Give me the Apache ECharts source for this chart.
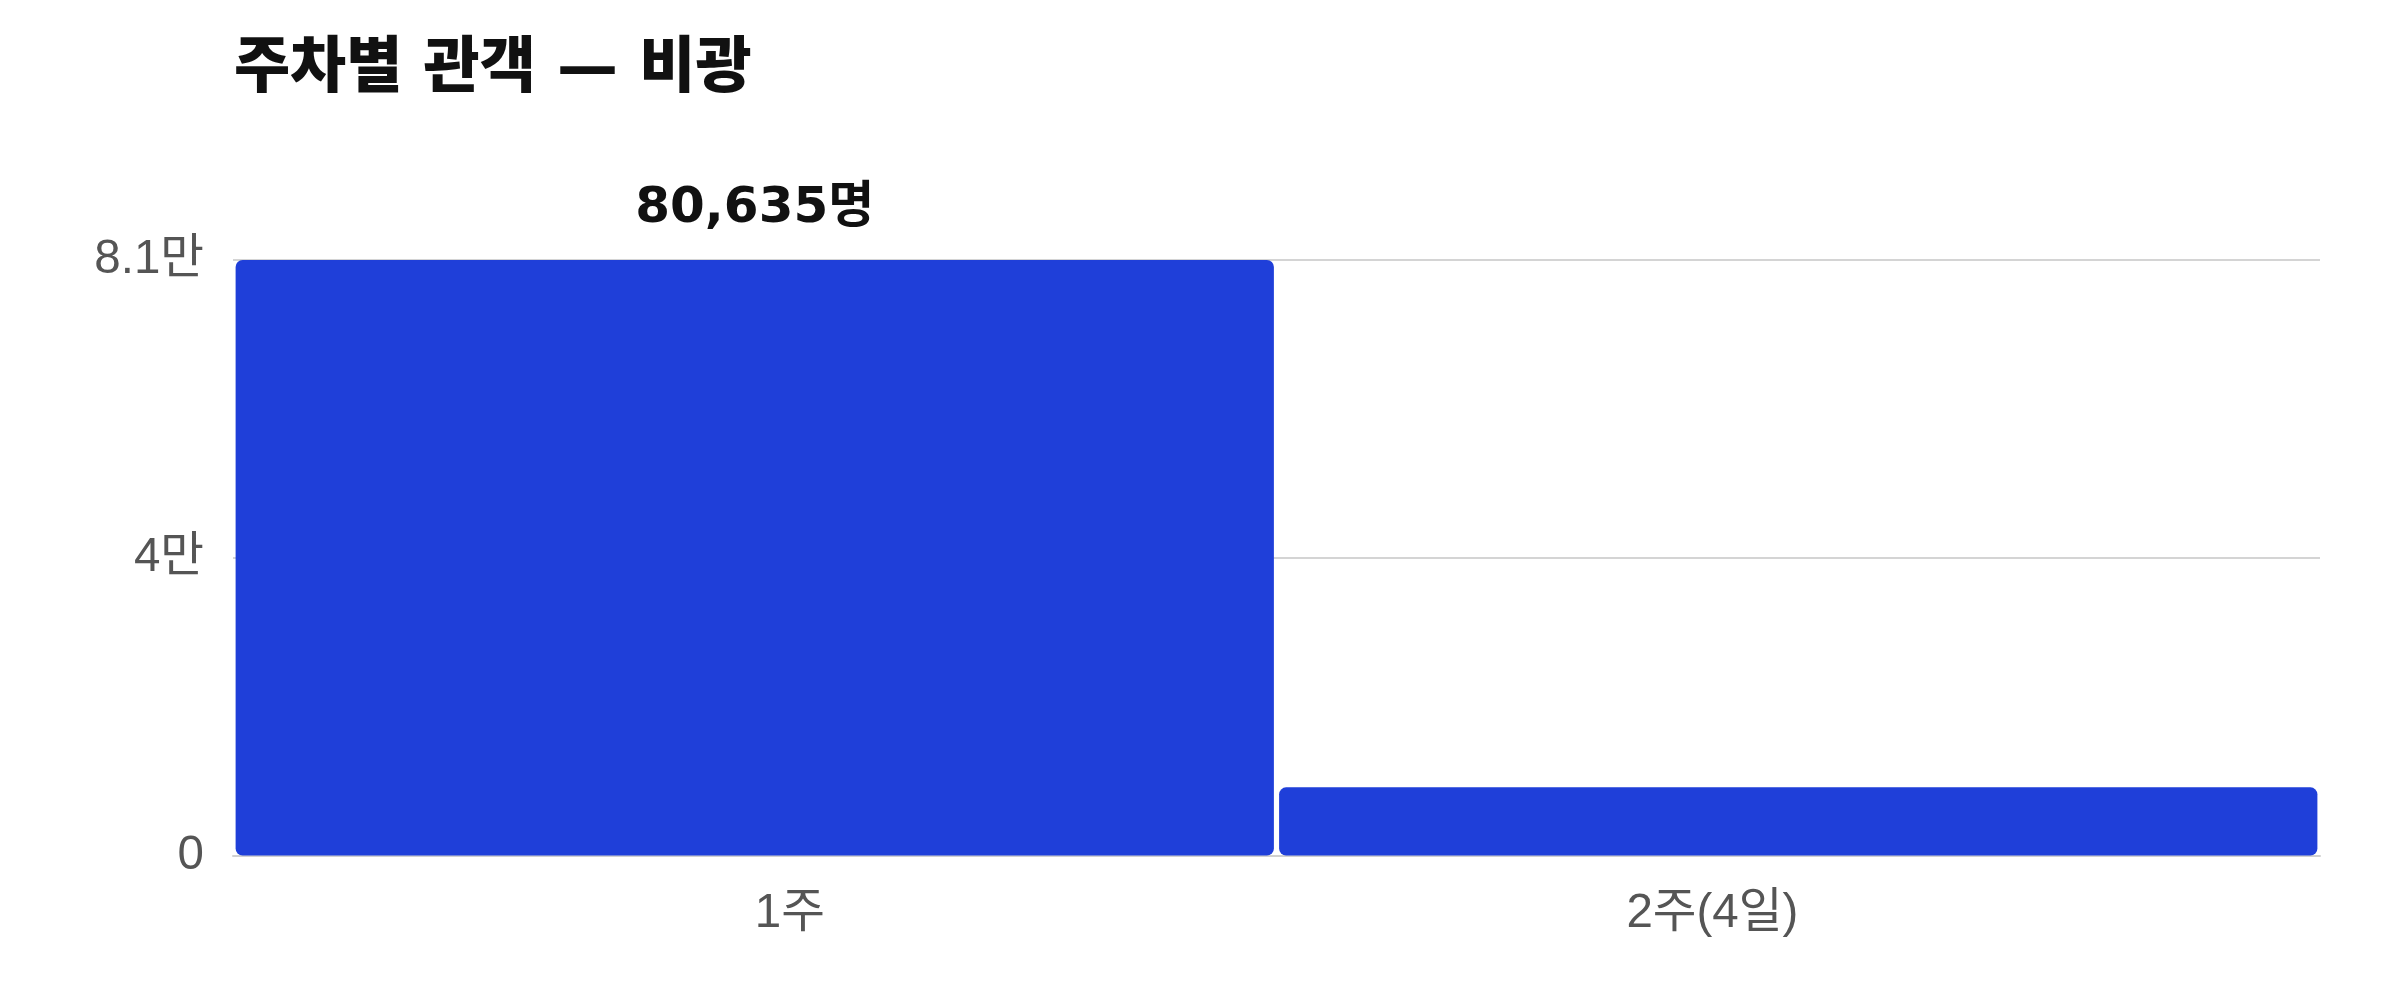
<!DOCTYPE html>
<html>
<head>
<meta charset="utf-8">
<script src="https://cdn.jsdelivr.net/npm/echarts@6/dist/echarts.min.js"></script>
<style>
  html, body { margin: 0; padding: 0; background: #ffffff; }
  #chart { width: 2400px; height: 1000px; }
</style>
</head>
<body>
<div id="chart"></div>
<script>
const titleText = '주차별 관객 — 비광';
const categories = ['1주', '2주(4일)'];
const audience = [80635, 9230];
const valueUnit = '명';
const tickUnit = '만';

const AXIS_FONT = "'Liberation Sans', 'Noto Sans CJK KR', sans-serif";
const BOLD_FONT = "'DejaVu Sans', 'Noto Sans CJK KR', sans-serif";
const maxVal = Math.max(...audience);

function fmtTick(v) {
  if (v === 0) return '0';
  return (v / 10000).toFixed(1).replace(/\.0$/, '') + tickUnit;
}

const chart = echarts.init(document.getElementById('chart'), null, { renderer: 'canvas' });
chart.setOption({
  animation: false,
  backgroundColor: '#ffffff',
  title: {
    text: titleText,
    left: 229,
    top: 36,
    textStyle: { fontFamily: BOLD_FONT, fontSize: 61, fontWeight: 900, color: '#111111' }
  },
  grid: { left: 233, right: 80, top: 260, bottom: 144.5, containLabel: false },
  xAxis: {
    type: 'category',
    data: categories,
    axisLine: { show: true, lineStyle: { color: '#d0d0d0', width: 2 } },
    axisTick: { show: false },
    axisLabel: {
      fontFamily: AXIS_FONT, fontSize: 47.5, color: '#555555', margin: 35,
      alignMinLabel: 'left', alignMaxLabel: 'right'
    },
    splitLine: { show: false }
  },
  yAxis: {
    type: 'value',
    min: 0,
    max: maxVal,
    interval: maxVal / 2,
    axisLine: { show: false },
    axisTick: { show: false },
    axisLabel: {
      fontFamily: AXIS_FONT, fontSize: 47.5, color: '#555555', margin: 29,
      formatter: fmtTick
    },
    splitLine: { show: true, lineStyle: { color: '#d4d4d4', width: 2 } }
  },
  series: [{
    type: 'bar',
    barCategoryGap: '0.5%',
    itemStyle: { color: '#1f3fd9', borderRadius: 7 },
    label: {
      show: false,
      position: 'top',
      distance: 26,
      fontFamily: BOLD_FONT, fontSize: 50, fontWeight: 'bold', color: '#111111',
      formatter: p => p.value.toLocaleString('en-US') + valueUnit
    },
    data: audience.map(v => ({ value: v, label: { show: v === maxVal } }))
  }]
});
</script>
</body>
</html>
